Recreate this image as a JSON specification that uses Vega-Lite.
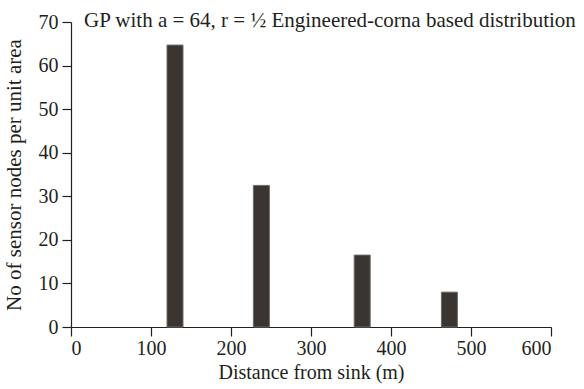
{
  "$schema": "https://vega.github.io/schema/vega-lite/v6.json",
  "width": 480,
  "height": 305,
  "autosize": {"type": "none"},
  "padding": {"left": 71, "top": 22, "right": 33, "bottom": 62},
  "background": "white",
  "title": {
    "text": "GP with a = 64, r = ½ Engineered-corna based distribution",
    "anchor": "start",
    "frame": "group",
    "dx": 13,
    "offset": -19,
    "font": "Liberation Serif",
    "fontSize": 21,
    "fontWeight": "normal",
    "color": "#231f20"
  },
  "data": {
    "values": [
      {"start": 120, "end": 140, "count": 64.7},
      {"start": 228, "end": 248, "count": 32.5},
      {"start": 354, "end": 374, "count": 16.5},
      {"start": 463, "end": 483, "count": 8.0}
    ]
  },
  "mark": {"type": "rect", "fill": "#3a3531", "stroke": "#6e6a67", "strokeWidth": 1},
  "encoding": {
    "x": {
      "field": "start",
      "type": "quantitative",
      "scale": {"domain": [0, 600], "nice": false},
      "axis": {"values": [0, 100, 200, 300, 400, 500, 600], "title": "Distance from sink (m)", "titlePadding": 4, "labelPadding": 2}
    },
    "x2": {"field": "end"},
    "y": {
      "field": "count",
      "type": "quantitative",
      "scale": {"domain": [0, 70], "nice": false},
      "axis": {"values": [0, 10, 20, 30, 40, 50, 60, 70], "title": "No of sensor nodes per unit area", "titlePadding": 14, "titleFontSize": 21, "labelPadding": 4}
    },
    "y2": {"datum": 0}
  },
  "config": {
    "view": {"stroke": null},
    "axis": {
      "grid": false,
      "domainColor": "#231f20",
      "domainWidth": 1.2,
      "tickColor": "#231f20",
      "tickSize": 9,
      "tickWidth": 1.2,
      "labelFont": "Liberation Serif",
      "labelFontSize": 20,
      "labelColor": "#231f20",
      "titleFont": "Liberation Serif",
      "titleFontSize": 20,
      "titleFontWeight": "normal",
      "titleColor": "#231f20"
    }
  }
}
